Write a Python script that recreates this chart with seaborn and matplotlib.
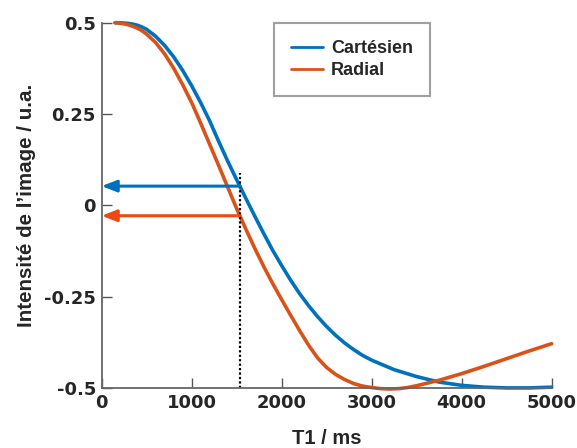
import numpy as np
import pandas as pd
import matplotlib
matplotlib.use('Agg')
import matplotlib.pyplot as plt
from matplotlib import font_manager as fm
import seaborn as sns

# valeurs (T1 en ms, intensité en u.a.)
t1_cart = [150, 200, 250, 300, 350, 400, 450, 500, 600, 700, 800, 900, 1000,
           1100, 1200, 1300, 1400, 1500, 1600, 1700, 1800, 1900, 2000, 2100,
           2200, 2300, 2400, 2500, 2600, 2700, 2800, 2900, 3000, 3250, 3500,
           3750, 4000, 4250, 4500, 4750, 5000]
cartesien = [0.5, 0.5, 0.499, 0.498, 0.496, 0.493, 0.488, 0.482, 0.463, 0.438,
             0.407, 0.37, 0.328, 0.282, 0.232, 0.176, 0.122, 0.071, 0.021,
             -0.028, -0.076, -0.122, -0.164, -0.204, -0.241, -0.274, -0.304,
             -0.331, -0.355, -0.376, -0.394, -0.41, -0.423, -0.449, -0.468,
             -0.483, -0.492, -0.497, -0.499, -0.499, -0.497]
t1_rad = [150, 200, 250, 300, 350, 400, 450, 500, 600, 700, 800, 900, 1000,
          1100, 1200, 1300, 1400, 1500, 1600, 1700, 1800, 1900, 2000, 2100,
          2200, 2300, 2400, 2500, 2600, 2700, 2800, 2900, 3000, 3100, 3200,
          3300, 3400, 3500, 3750, 4000, 4250, 4500, 4750, 5000]
radial = [0.5, 0.499, 0.497, 0.494, 0.49, 0.485, 0.478, 0.469, 0.446, 0.415,
          0.376, 0.331, 0.282, 0.226, 0.168, 0.11, 0.051, -0.008, -0.063,
          -0.116, -0.166, -0.213, -0.257, -0.3, -0.342, -0.382, -0.417,
          -0.443, -0.462, -0.476, -0.487, -0.494, -0.498, -0.501, -0.502,
          -0.501, -0.498, -0.493, -0.478, -0.46, -0.44, -0.419, -0.398, -0.378]
series = ['Cartésien', 'Radial']

# lecture graphique : T1 mesuré et intensités correspondantes
t1_mesure = 1537
y_cart = 0.053
y_rad = -0.028
y_pointille = 0.09

xticks = [0, 1000, 2000, 3000, 4000, 5000]
yticks = [-0.5, -0.25, 0, 0.25, 0.5]
ytick_labels = ['-0.5', '-0.25', '0', '0.25', '0.5']

bleu = '#0072BD'
orange = '#D95319'
orange_fleche = '#EC4A12'

df = pd.DataFrame({
    'T1': t1_cart + t1_rad,
    'val': cartesien + radial,
    'serie': [series[0]] * len(t1_cart) + [series[1]] * len(t1_rad),
})

# police type Helvetica gras (Liberation Sans Bold, pas la version Narrow)
chemin = None
for f in fm.fontManager.ttflist:
    if f.fname.endswith('LiberationSans-Bold.ttf'):
        chemin = f.fname
        break
if chemin:
    helv = lambda taille: fm.FontProperties(fname=chemin, size=taille)
else:
    helv = lambda taille: fm.FontProperties(family='Liberation Sans', weight='bold', size=taille)
tick_font = fm.FontProperties(family='DejaVu Sans', weight='bold', size=13)

sns.set_style('ticks')
fig = plt.figure(figsize=(5.77, 4.48), dpi=100)
ax = fig.add_axes([0.176, 0.1333, 0.78, 0.8160])

sns.lineplot(data=df, x='T1', y='val', hue='serie', palette=[bleu, orange],
             linewidth=2.6, ax=ax, clip_on=False, sort=True)

# flèches horizontales vers l'axe des ordonnées
for yv, col in [(y_cart, bleu), (y_rad, orange_fleche)]:
    ax.annotate('', xy=(0, yv), xytext=(t1_mesure, yv),
                arrowprops=dict(arrowstyle='-|>,head_length=0.9,head_width=0.35',
                                color=col, lw=2.2, shrinkA=0, shrinkB=0),
                annotation_clip=False)

ax.plot([t1_mesure, t1_mesure], [-0.5, y_pointille], color='black',
        linestyle=(0, (1, 1)), linewidth=1.6)

ax.set_xlim(0, 5000)
ax.set_ylim(-0.5, 0.5)
ax.set_xticks(xticks)
ax.set_xticklabels([str(v) for v in xticks], fontproperties=tick_font)
ax.set_yticks(yticks)
ax.set_yticklabels(ytick_labels, fontproperties=tick_font)
sns.despine(ax=ax)
for s in ['left', 'bottom']:
    ax.spines[s].set_color('#666666')
    ax.spines[s].set_linewidth(1.3)
ax.tick_params(direction='in', length=7, width=1, color='#555555',
               labelcolor='#262626', pad=4)

ax.set_xlabel('T1 / ms', fontproperties=helv(14.5), labelpad=12)
ax.set_ylabel('Intensité de l’image / u.a.', fontproperties=helv(14.8), labelpad=6)

leg = ax.legend(loc='upper right', bbox_to_anchor=(0.73, 1.0), frameon=True,
                fancybox=False, borderpad=0.95, labelspacing=0.3,
                handlelength=1.75, handletextpad=0.45, borderaxespad=0,
                prop=helv(13))
leg.get_frame().set_edgecolor('#888888')
leg.get_frame().set_linewidth(1.5)
for line in leg.get_lines():
    line.set_linewidth(2)

fig.savefig('out.png', dpi=100)
